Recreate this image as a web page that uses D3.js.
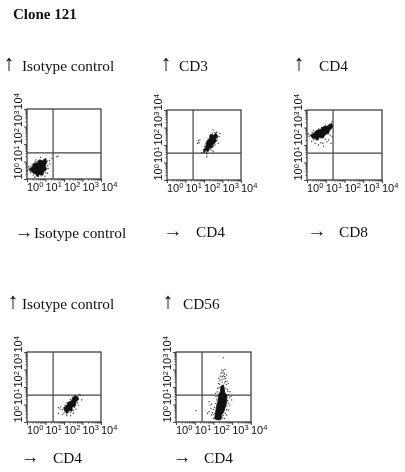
<!DOCTYPE html>
<html>
<head>
<meta charset="utf-8">
<script src="https://cdn.jsdelivr.net/npm/d3@7"></script>
<style>
  body { margin: 0; background: #fff; }
  svg { display: block; filter: grayscale(1); }
  .cap { font-family: "Liberation Serif", serif; font-size: 15.3px; fill: #111; }
  .up { font-size: 22px; }
  .right { font-size: 19px; }
  .tick text { font-family: "Liberation Sans", sans-serif; font-size: 11px; fill: #111; }
</style>
</head>
<body>
<svg id="chart" width="405" height="472"></svg>
<script>
// all values are in decades (log10 of the fluorescence)
const decades = [0, 1, 2, 3, 4];
const minorTicks = [2, 3, 4, 5, 6, 7, 8, 9];

const yTitles = ["Isotype control", "CD3", "CD4", "Isotype control", "CD56"];
const xTitles = ["Isotype control", "CD4", "CD8", "CD4", "CD4"];

// quadrant gates [x, y]
const gates = [[1.41, 1.49], [1.41, 1.54], [1.39, 1.54], [1.41, 1.54], [1.39, 1.54]];

// outline of the solid part of each cloud
const core1 = [[.16,.60],[.30,.72],[.36,.90],[.52,.92],[.68,1.10],[.84,1.04],[1.02,1.18],[1.06,.92],[1.00,.80],[1.04,.52],[.90,.42],[.86,.22],[.66,.26],[.60,.12],[.44,.30],[.32,.34],[.26,.48],[.14,.46]];
const core2 = [[1.98,1.68],[2.10,1.92],[2.14,2.20],[2.28,2.34],[2.36,2.62],[2.52,2.56],[2.64,2.68],[2.74,2.50],[2.64,2.36],[2.66,2.20],[2.50,2.04],[2.44,1.84],[2.30,1.82],[2.22,1.62],[2.08,1.68],[2.02,1.56]];
const core3 = [[.18,2.56],[.36,2.66],[.52,2.84],[.70,2.88],[.88,3.06],[1.08,3.08],[1.32,3.24],[1.36,3.00],[1.20,2.84],[1.16,2.68],[.96,2.58],[.86,2.40],[.68,2.44],[.54,2.26],[.42,2.38],[.30,2.38]];
const core4 = [[1.98,.82],[2.14,.94],[2.24,1.14],[2.40,1.20],[2.50,1.44],[2.70,1.48],[2.80,1.30],[2.64,1.14],[2.62,.92],[2.44,.84],[2.44,.62],[2.26,.66],[2.20,.50],[2.06,.58]];
const core5 = [[2.06,.18],[2.12,.62],[2.16,.90],[2.24,1.20],[2.26,1.54],[2.36,1.72],[2.40,2.06],[2.54,2.12],[2.60,1.70],[2.72,1.50],[2.70,1.12],[2.62,.82],[2.54,.56],[2.44,.40],[2.40,.14],[2.24,.12]];

// single events around the clouds
const dots1 = [[1.6,1.27],[1.34,1.18],[1.21,1.05],[.07,.70],[.02,.47],[.2,.36],[.34,.23],[1.15,.61],[1.1,.33],[.97,.17],[1.24,.86],[.43,.1],[.74,1.24],[.49,1.09],[.2,.74],[1.68,1.3],
  [.12,.62],[.10,.54],[.28,.84],[.44,1.00],[.60,1.04],[.92,1.12],[1.10,1.02],[1.12,.76],[1.08,.60],[1.00,.36],[.76,.18],[.52,.18],[.24,.42]];
const dots2 = [[1.69,2.25],[1.78,2.29],[1.66,2.10],[1.73,2.13],[2.86,2.67],[2.69,2.73],[2.15,1.33],[2.50,1.62],[2.59,2.0],[2.77,2.10],[1.88,1.56],[2.43,1.71],[2.16,1.49],[2.81,2.49],[2.49,2.86],
  [1.96,1.74],[2.04,1.92],[2.10,2.08],[2.22,2.34],[2.30,2.52],[2.46,2.68],[2.58,2.72],[2.72,2.40],[2.70,2.26],[2.56,2.08],[2.50,1.92],[2.34,1.74],[2.14,1.56],[1.98,1.60]];
const dots3 = [[.07,2.63],[.25,2.19],[.43,2.10],[.61,2.0],[.85,2.10],[.88,1.94],[1.06,2.19],[1.15,2.29],[1.28,2.10],[1.24,2.57],[1.34,2.47],[.74,2.13],[.97,2.33],[.34,2.82],[1.34,3.33],
  [.12,2.50],[.28,2.70],[.44,2.76],[.62,2.92],[.78,3.00],[.98,3.14],[1.18,3.18],[1.38,3.10],[1.26,2.90],[1.14,2.64],[.94,2.58],[.76,2.40],[.60,2.34],[.36,2.30]];
const dots4 = [[1.69,.82],[1.82,.87],[1.78,.74],[1.69,.50],[1.93,.44],[2.15,.36],[2.36,.36],[2.5,.5],[2.77,.97],[2.9,1.54],[2.83,1.58],[2.96,1.26],[2.65,.74],
  [1.92,.70],[2.06,.96],[2.16,1.10],[2.34,1.28],[2.44,1.38],[2.60,1.52],[2.76,1.42],[2.72,1.10],[2.58,.84],[2.52,.68],[2.34,.56],[2.14,.46],[2.00,.52]];
const dots5 = [[2.52,3.67],[2.44,2.97],[2.52,2.93],[2.61,3.01],[2.40,2.78],[2.58,2.74],[2.70,2.69],[2.29,2.50],[2.47,2.59],[2.65,2.50],[2.26,2.21],[2.79,2.21],[2.22,1.92],[2.75,1.87],[2.88,1.73],[2.93,1.45],[2.11,1.64],[2.97,1.26],[2.88,.97],[2.17,1.26],[1.76,1.16],[1.81,.97],[1.87,.78],[1.76,.59],[1.69,.50],[1.90,.40],[1.99,.72],[1.90,1.03],[2.79,.68],[2.70,.40],[2.58,.21],[1.07,.65],[1.99,.21],[1.94,.53],[2.08,.50],
  [2.46,2.84],[2.56,2.80],[2.38,2.62],[2.52,2.64],[2.60,2.60],[2.34,2.38],[2.44,2.44],[2.56,2.46],[2.64,2.32],[2.72,2.34],[2.32,2.16],[2.46,2.28],[2.60,2.24],[2.68,2.14],[2.30,1.96],[2.66,1.94],[2.76,1.76],[2.20,1.72],[2.80,1.56],[2.84,1.38],[2.14,1.44],[2.76,1.22],[2.80,1.08],[2.12,1.06],[2.72,.92],[2.70,.70],[2.06,.84],[2.62,.50],[2.54,.36],[2.02,.44],[2.48,.24]];

const cores = [core1, core2, core3, core4, core5];
const dots = [dots1, dots2, dots3, dots4, dots5];

// layout of the five plots and their captions (pixels)
const frames = [
  { left: 27, right: 101, top: 109, bottom: 179 },
  { left: 167, right: 241, top: 110, bottom: 180 },
  { left: 307, right: 382, top: 110, bottom: 180 },
  { left: 27, right: 101, top: 352, bottom: 422 },
  { left: 176, right: 251, top: 352, bottom: 422 }
];
const yCaps = [
  { arrow: 9, text: 22, base: 71 },
  { arrow: 166, text: 179, base: 71 },
  { arrow: 299, text: 319, base: 71 },
  { arrow: 13, text: 22, base: 309 },
  { arrow: 168, text: 183, base: 309 }
];
const xCaps = [
  { arrow: 24, text: 34, base: 238 },
  { arrow: 173, text: 196, base: 237 },
  { arrow: 317, text: 339, base: 237 },
  { arrow: 30, text: 53, base: 463 },
  { arrow: 182, text: 204, base: 463 }
];

const svg = d3.select("#chart");

svg.append("text")
  .attr("x", 13).attr("y", 19)
  .attr("font-family", "Liberation Serif, serif")
  .attr("font-weight", "bold")
  .attr("font-size", 15)
  .attr("fill", "#111")
  .text("Clone 121");

// every decade gets a long tick, the log steps in between a short one
const minorValues = decades.slice(0, -1).flatMap(d => minorTicks.map(m => d + Math.log10(m)));

function addPowerLabels(axisG) {
  axisG.selectAll(".major .tick").each(function (d) {
    const label = d3.select(this).select("text").text("10");
    label.append("tspan")
      .attr("font-size", 7.5)
      .attr("dy", -3.5)
      .text(d);
  });
}

function drawPlot(i) {
  const f = frames[i];
  const x = d3.scaleLinear().domain([0, 4]).range([f.left, f.right]);
  const y = d3.scaleLinear().domain([0, 4]).range([f.bottom, f.top]);
  const g = svg.append("g");

  // x axis, the labels start at their tick
  const xAxisG = g.append("g").attr("transform", `translate(0,${f.bottom})`);
  xAxisG.append("g").call(d3.axisBottom(x).tickValues(minorValues).tickSize(1.5).tickFormat(""));
  xAxisG.append("g").attr("class", "major")
    .call(d3.axisBottom(x).tickValues(decades).tickSize(3).tickFormat(d => d));
  addPowerLabels(xAxisG);
  xAxisG.selectAll(".major .tick text")
    .attr("text-anchor", "start")
    .attr("x", -0.5)
    .attr("y", 11.7)
    .attr("dy", 0);

  // y axis, labels turned on their side
  const yAxisG = g.append("g").attr("transform", `translate(${f.left},0)`);
  yAxisG.append("g").call(d3.axisLeft(y).tickValues(minorValues).tickSize(1.5).tickFormat(""));
  yAxisG.append("g").attr("class", "major")
    .call(d3.axisLeft(y).tickValues(decades).tickSize(3).tickFormat(d => d));
  addPowerLabels(yAxisG);
  yAxisG.selectAll(".major .tick text")
    .attr("transform", "rotate(-90)")
    .attr("text-anchor", "start")
    .attr("x", 0)
    .attr("y", -4.7)
    .attr("dy", 0);

  g.selectAll(".domain").remove();
  g.selectAll(".tick line").attr("stroke", "#222").attr("stroke-width", 0.8);

  // frame + quadrant lines
  g.append("rect")
    .attr("x", f.left).attr("y", f.top)
    .attr("width", f.right - f.left).attr("height", f.bottom - f.top)
    .attr("fill", "none").attr("stroke", "#333").attr("stroke-width", 1.2);
  g.append("line")
    .attr("x1", x(gates[i][0])).attr("x2", x(gates[i][0]))
    .attr("y1", f.top).attr("y2", f.bottom)
    .attr("stroke", "#444").attr("stroke-width", 1.2);
  g.append("line")
    .attr("x1", f.left).attr("x2", f.right)
    .attr("y1", y(gates[i][1])).attr("y2", y(gates[i][1]))
    .attr("stroke", "#444").attr("stroke-width", 1.2);

  // the cloud
  const outline = d3.line().x(d => x(d[0])).y(d => y(d[1])).curve(d3.curveLinearClosed);
  g.append("path")
    .attr("d", outline(cores[i]))
    .attr("fill", "#111").attr("stroke", "#111").attr("stroke-width", 0.8);
  g.selectAll("circle")
    .data(dots[i])
    .join("circle")
    .attr("cx", d => x(d[0]))
    .attr("cy", d => y(d[1]))
    .attr("r", 0.65)
    .attr("fill", "#222");

  // captions
  const yc = yCaps[i], xc = xCaps[i];
  g.append("text").attr("class", "cap up").attr("x", yc.arrow).attr("y", yc.base - 1).attr("text-anchor", "middle").text("↑");
  g.append("text").attr("class", "cap").attr("x", yc.text).attr("y", yc.base).text(yTitles[i]);
  g.append("text").attr("class", "cap right").attr("x", xc.arrow).attr("y", xc.base).attr("text-anchor", "middle").text("→");
  g.append("text").attr("class", "cap").attr("x", xc.text).attr("y", xc.base).text(xTitles[i]);
}

frames.forEach((f, i) => drawPlot(i));
</script>
</body>
</html>
